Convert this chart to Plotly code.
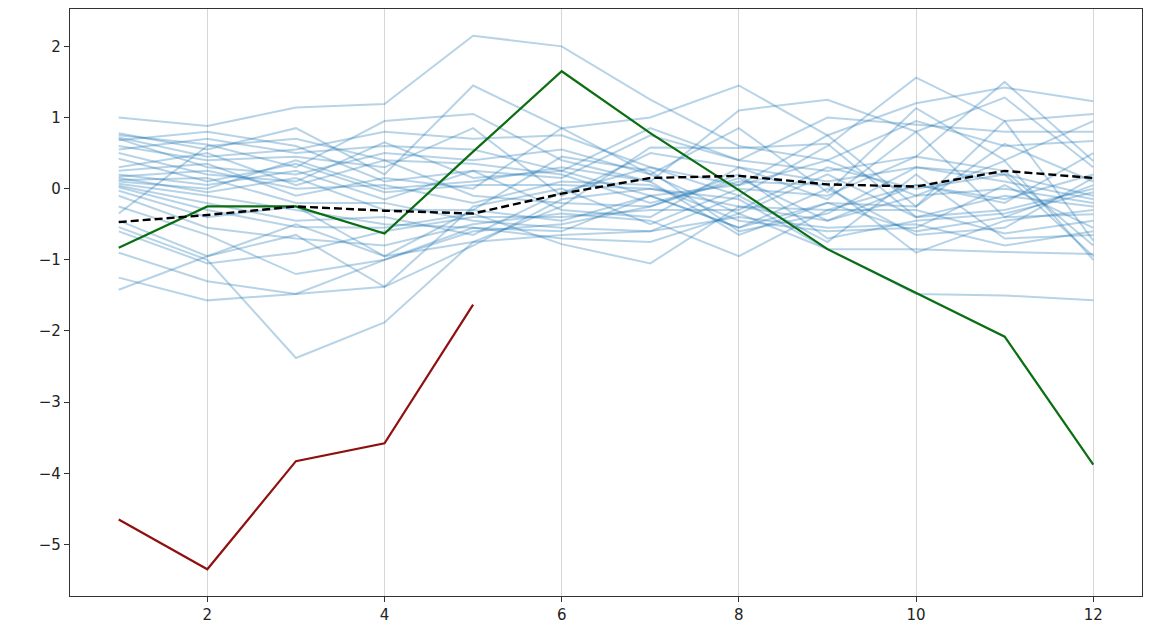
import plotly.graph_objects as go

months = list(range(1, 13))

x_ticks = [2, 4, 6, 8, 10, 12]
y_ticks = [2, 1, 0, -1, -2, -3, -4, -5]

blue_s01 = [1.00, 0.88, 1.14, 1.19, 2.15, 2.00, 1.25, 0.60, 0.40, 0.95, 0.60, 0.67]
blue_s02 = [0.78, 0.55, 0.85, 0.20, 1.45, 0.85, 1.00, 1.45, 0.75, 1.20, 1.42, 1.23]
blue_s03 = [0.75, 0.62, 0.30, 0.95, 1.05, 0.40, 0.10, 1.10, 1.25, 0.80, 1.28, 0.30]
blue_s04 = [0.72, 0.45, 0.55, 0.80, 0.70, 0.75, 0.30, -0.10, 0.60, 1.56, 0.95, 1.05]
blue_s05 = [0.70, 0.30, 0.20, 0.50, 0.40, 0.55, 0.20, 0.85, -0.05, 1.13, 0.40, 0.95]
blue_s06 = [0.68, 0.80, 0.60, 0.10, 0.25, 0.15, 0.75, 0.40, 0.25, 0.45, 1.50, 0.39]
blue_s07 = [0.60, 0.40, 0.45, 0.30, 0.85, -0.10, 0.50, 0.30, 0.10, 0.30, 0.20, -0.10]
blue_s08 = [0.50, 0.20, 0.10, 0.65, 0.15, 0.25, -0.10, 0.05, 0.75, -0.25, 0.63, 0.10]
blue_s09 = [0.42, 0.10, 0.35, -0.05, 0.05, 0.05, 0.00, -0.25, -0.30, 0.05, -0.15, 0.20]
blue_s10 = [0.30, 0.50, 0.05, 0.40, -0.10, -0.20, -0.25, 0.15, -0.45, -0.10, 0.00, -0.20]
blue_s11 = [0.25, 0.35, -0.10, 0.15, 0.00, 0.85, 0.20, -0.35, 0.20, -0.40, -0.30, 0.00]
blue_s12 = [0.20, 0.05, 0.25, -0.15, 0.25, -0.30, -0.40, 0.30, -0.15, 0.80, -0.40, -0.36]
blue_s13 = [0.17, 0.25, 0.00, 0.05, -0.20, 0.10, 0.05, -0.45, -0.60, -0.55, 0.05, -0.55]
blue_s14 = [0.15, -0.05, 0.15, -0.30, -0.30, -0.45, -0.10, -0.55, 0.00, -0.65, -0.55, 0.15]
blue_s15 = [0.12, 0.15, -0.20, -0.20, -0.45, -0.55, -0.60, -0.10, -0.75, 0.20, -0.70, -0.65]
blue_s16 = [0.10, 0.00, 0.40, 0.00, 0.10, 0.30, 0.10, -0.65, -0.20, -0.25, 0.95, -0.73]
blue_s17 = [0.07, -0.10, -0.30, -0.50, -0.55, -0.70, -0.75, -0.35, -0.85, -0.85, -0.89, -0.92]
blue_s18 = [0.04, -0.20, -0.45, -0.40, -0.65, -0.05, 0.30, 0.05, 0.40, -0.10, 0.39, -1.00]
blue_s19 = [0.02, -0.30, -0.54, -0.55, -0.35, -0.78, -1.05, -0.25, -0.45, 0.05, -0.20, 0.50]
blue_s20 = [-0.03, -0.40, -0.25, -0.95, -0.75, -0.25, 0.58, 0.57, 0.63, -0.40, -0.10, -0.25]
blue_s21 = [-0.10, -0.55, -0.70, -0.80, -0.50, -0.35, -0.45, -0.95, -0.30, -0.30, -0.63, -0.45]
blue_s22 = [-0.25, -0.65, -1.20, -1.00, -0.60, -0.50, -0.25, 0.20, -0.70, -0.45, -0.35, -0.05]
blue_s23 = [-0.35, 0.60, 0.70, 0.40, 0.35, 0.20, -0.20, 0.10, 0.05, -0.90, -0.45, -0.30]
blue_s24 = [-0.45, -0.95, -0.65, -1.38, -0.25, 0.00, -0.50, 0.00, -0.10, 0.45, 0.25, -0.80]
blue_s25 = [-0.54, -1.00, -2.38, -1.88, -0.75, -0.65, -0.60, -0.40, -0.55, -0.50, -0.80, -0.60]
blue_s26 = [-0.60, -1.05, -0.90, -0.60, -0.40, -0.40, -0.30, -0.30, 0.30, 0.00, 0.20, -0.95]
blue_s27 = [-0.90, -1.30, -1.48, -1.38, -0.80, -0.15, 0.00, -0.15, -0.85, -1.48, -1.50, -1.57]
blue_s28 = [-1.25, -1.57, -1.48, -1.00, -0.55, -0.60, -0.10, -0.55, -0.20, -0.60, -0.40, 0.05]
blue_s29 = [-1.42, -0.95, -0.50, -0.95, -0.30, 0.45, 0.25, -0.60, -0.35, 0.30, 0.10, -0.15]
blue_s30 = [0.55, 0.70, 0.50, 0.60, 0.55, 0.25, 0.85, 0.40, 1.00, 0.90, 0.80, 0.80]

blue_series = [
    blue_s01, blue_s02, blue_s03, blue_s04, blue_s05, blue_s06, blue_s07, blue_s08,
    blue_s09, blue_s10, blue_s11, blue_s12, blue_s13, blue_s14, blue_s15, blue_s16,
    blue_s17, blue_s18, blue_s19, blue_s20, blue_s21, blue_s22, blue_s23, blue_s24,
    blue_s25, blue_s26, blue_s27, blue_s28, blue_s29, blue_s30,
]

green_values = [-0.83, -0.25, -0.25, -0.63, 0.52, 1.65, 0.78, -0.02, -0.85, -1.47, -2.08, -3.88]
red_months = [1, 2, 3, 4, 5]
red_values = [-4.65, -5.35, -3.83, -3.58, -1.63]
mean_values = [-0.47, -0.37, -0.25, -0.31, -0.35, -0.07, 0.15, 0.18, 0.06, 0.03, 0.25, 0.15]

fig = go.Figure()

for s in blue_series:
    fig.add_trace(go.Scatter(
        x=months, y=s, mode="lines",
        line=dict(color="rgba(31,119,180,0.32)", width=2),
        hoverinfo="skip", showlegend=False,
    ))

fig.add_trace(go.Scatter(
    x=months, y=green_values, mode="lines",
    line=dict(color="#0a6e12", width=2.2), showlegend=False,
))
fig.add_trace(go.Scatter(
    x=red_months, y=red_values, mode="lines",
    line=dict(color="#8e1010", width=2.2), showlegend=False,
))
fig.add_trace(go.Scatter(
    x=months, y=mean_values, mode="lines",
    line=dict(color="black", width=2.4, dash="8px,4px"), showlegend=False,
))

axis_font = dict(family="DejaVu Sans", size=15, color="#222222")

fig.update_layout(
    width=1153, height=632,
    margin=dict(l=70, r=11, t=8, b=35),
    plot_bgcolor="white", paper_bgcolor="white",
    showlegend=False,
    xaxis=dict(
        range=[0.45, 12.55], tickvals=x_ticks, ticktext=[str(v) for v in x_ticks],
        showgrid=True, gridcolor="#d6d6d6", gridwidth=1,
        zeroline=False, showline=True, linecolor="#333333", linewidth=1.3,
        mirror=True, ticks="outside", ticklen=5, tickcolor="#333333",
        tickfont=axis_font,
    ),
    yaxis=dict(
        range=[-5.725, 2.525], tickvals=y_ticks,
        ticktext=[("\u2212" + str(-v)) if v < 0 else str(v) for v in y_ticks],
        showgrid=False, zeroline=False, showline=True, linecolor="#333333",
        linewidth=1.3, mirror=True, ticks="outside", ticklen=5, tickcolor="#333333",
        tickfont=axis_font,
    ),
)

fig.write_html(
    "out.html",
    config={"displayModeBar": False},
    post_script="document.body.style.margin='0';document.body.style.overflow='hidden';",
)
